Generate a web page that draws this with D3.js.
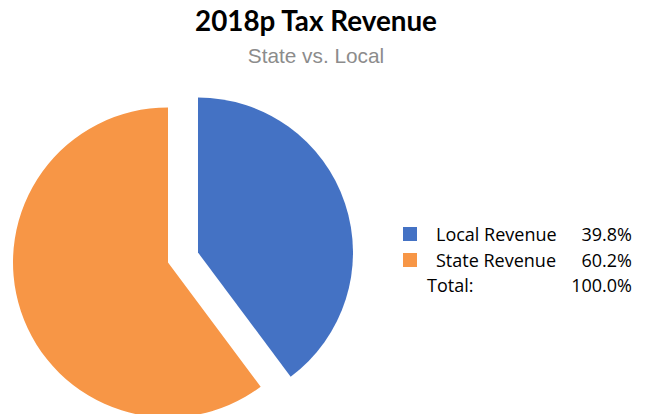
<!DOCTYPE html>
<html><head><meta charset="utf-8">
<script src="https://cdn.jsdelivr.net/npm/d3@7"></script>
<style>body{margin:0;background:#fff}svg{display:block}</style>
</head><body>
<svg id="c" width="646" height="414"></svg>
<script>
const categories = ["Local Revenue", "State Revenue"];
const values = [39.8, 60.2];
const colors = ["#4472C4", "#F79646"];
const totalLabel = "Total:";
const title = "2018p Tax Revenue";
const subtitle = "State vs. Local";

const svg = d3.select("#c");
svg.append("text").attr("x", 316).attr("y", 31).attr("text-anchor", "middle")
  .attr("font-family", "Lato").attr("font-weight", "bold").attr("font-size", 27.8)
  .attr("fill", "#000").text(title);
svg.append("text").attr("x", 316).attr("y", 63).attr("text-anchor", "middle")
  .attr("font-family", "Liberation Sans, Arial").attr("font-size", 20.8)
  .attr("fill", "#8c8c8c").text(subtitle);

const cx = 183, cy = 257.5, R = 155, explode = 15.8;
const pie = d3.pie().sort(null).startAngle(0).endAngle(2 * Math.PI);
const arcs = pie(values);
const arc = d3.arc().innerRadius(0).outerRadius(R);
const g = svg.append("g").attr("transform", `translate(${cx},${cy})`);
g.selectAll("path").data(arcs).enter().append("path")
  .attr("d", arc)
  .attr("fill", (d, i) => colors[i])
  .attr("transform", d => {
    const m = (d.startAngle + d.endAngle) / 2;
    return `translate(${explode * Math.sin(m)},${-explode * Math.cos(m)})`;
  });

const fmt = v => v.toFixed(1) + "%";
const lg = svg.append("g").attr("font-family", "Open Sans").attr("font-size", 18).attr("fill", "#000");
const rowY = [241, 267];
categories.forEach((c, i) => {
  lg.append("rect").attr("x", 403).attr("y", rowY[i] - 14).attr("width", 14).attr("height", 14).attr("fill", colors[i]);
  lg.append("text").attr("x", 436).attr("y", rowY[i]).text(c);
  lg.append("text").attr("x", 632).attr("y", rowY[i]).attr("text-anchor", "end").text(fmt(values[i]));
});
lg.append("text").attr("x", 427).attr("y", 292).text(totalLabel);
lg.append("text").attr("x", 632).attr("y", 292).attr("text-anchor", "end").text(fmt(d3.sum(values)));
</script>
</body></html>
